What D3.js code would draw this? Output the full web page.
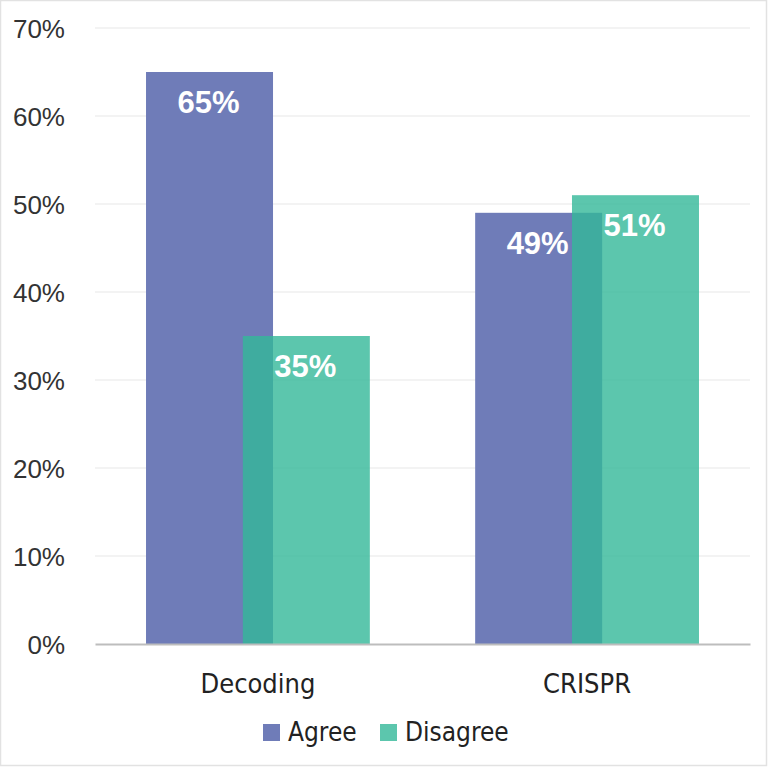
<!DOCTYPE html>
<html>
<head>
<meta charset="utf-8">
<script src="https://cdn.jsdelivr.net/npm/d3@7"></script>
<style>
  body { margin: 0; background: #fff; }
</style>
</head>
<body>
<script>
const width = 768;
const height = 767;

const margin = {
    left: 95,
    right: 18,
    top: 28,
    bottom: 123
};

// data
const categories = ["Decoding", "CRISPR"];
const seriesNames = ["Agree", "Disagree"];
const agree = [65, 49];
const disagree = [35, 51];
const yTicks = [0, 10, 20, 30, 40, 50, 60, 70];

const colors = {
    Agree: "#6f7cb8",
    Disagree: "rgb(51,184,152)"
};
const opac = { Agree: 1, Disagree: 0.8 };

let data = categories.map((c, i) => ({
    name: c,
    values: [
        { key: "Agree", value: agree[i] },
        { key: "Disagree", value: disagree[i] }
    ]
}));

let svg = d3.select("body").append("svg")
    .attr("width", width)
    .attr("height", height);

svg.append("rect")
    .attr("x", 0.5).attr("y", 0.5)
    .attr("width", width - 2).attr("height", height - 2)
    .attr("fill", "#fff")
    .attr("stroke", "#e2e2e2")
    .attr("stroke-width", 1.5);

let xScale = d3.scaleBand()
    .domain(categories)
    .range([margin.left, width - margin.right])
    .paddingInner(0.32)
    .paddingOuter(0.155);

let yScale = d3.scaleLinear()
    .domain([0, 70])
    .range([height - margin.bottom, margin.top]);

const barW = 127;
let inner = d3.scalePoint()
    .domain(seriesNames)
    .range([0, xScale.bandwidth() - barW]);

// gridlines
svg.append("g")
    .selectAll("line")
    .data(yTicks.slice(1))
    .join("line")
    .attr("x1", margin.left)
    .attr("x2", width - margin.right)
    .attr("y1", d => yScale(d))
    .attr("y2", d => yScale(d))
    .attr("stroke", "#efefef")
    .attr("stroke-width", 1.5);

// y axis labels
let yAxis = svg.append("g")
    .attr("transform", "translate(" + (margin.left - 30) + ",0)")
    .call(d3.axisLeft(yScale).tickValues(yTicks).tickFormat(d => d + "%").tickSize(0));
yAxis.select(".domain").remove();
yAxis.selectAll("text")
    .attr("x", 0)
    .attr("dy", "0.36em")
    .style("font-family", "'Liberation Sans', Arial, sans-serif")
    .style("font-size", "26px")
    .attr("fill", "#333");

// bars
let groups = svg.selectAll(".grp")
    .data(data)
    .join("g")
    .attr("class", "grp")
    .attr("transform", d => `translate(${xScale(d.name)},0)`);

groups.selectAll("rect")
    .data(d => d.values)
    .join("rect")
    .attr("x", d => inner(d.key))
    .attr("y", d => yScale(d.value))
    .attr("width", barW)
    .attr("height", d => yScale(0) - yScale(d.value))
    .attr("fill", d => colors[d.key])
    .attr("fill-opacity", d => opac[d.key]);

groups.selectAll(".lbl")
    .data(d => d.values)
    .join("text")
    .attr("class", "lbl")
    .attr("x", d => inner(d.key) + barW / 2 - 1)
    .attr("y", d => yScale(d.value) + 41)
    .attr("text-anchor", "middle")
    .style("font-family", "'Liberation Sans', Arial, sans-serif")
    .style("font-weight", "bold")
    .style("font-size", "31px")
    .attr("fill", "#fff")
    .text(d => d.value + "%");

// x axis
let xAxis = svg.append("g")
    .attr("transform", "translate(0," + yScale(0) + ")")
    .call(d3.axisBottom(xScale).tickSize(0).tickPadding(0));
xAxis.select(".domain")
    .attr("stroke", "#bdbdbd")
    .attr("stroke-width", 2);
xAxis.selectAll("text")
    .attr("y", 49)
    .attr("dy", 0)
    .style("font-family", "'DejaVu Sans Condensed', 'DejaVu Sans', sans-serif")
    .style("font-stretch", "condensed")
    .style("font-size", "27px")
    .attr("fill", "#222");

// legend
const legendX = [263, 380];
let legend = svg.append("g")
    .selectAll("g")
    .data(seriesNames)
    .join("g")
    .attr("transform", (d, i) => `translate(${legendX[i]},724)`);

legend.append("rect")
    .attr("width", 17)
    .attr("height", 17)
    .attr("fill", d => colors[d])
    .attr("fill-opacity", d => opac[d]);

legend.append("text")
    .attr("x", 25)
    .attr("y", 17)
    .style("font-family", "'DejaVu Sans Condensed', 'DejaVu Sans', sans-serif")
    .style("font-stretch", "condensed")
    .style("font-size", "26px")
    .attr("fill", "#222")
    .text(d => d);
</script>
</body>
</html>
